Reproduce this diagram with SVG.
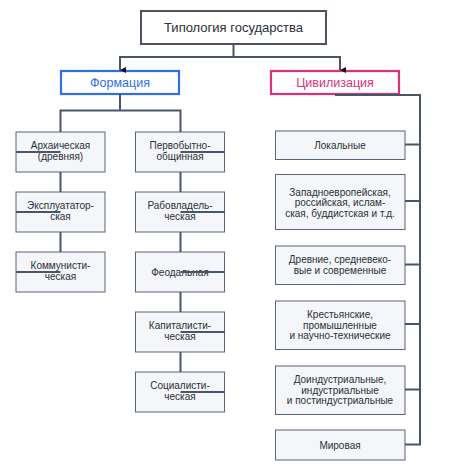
<svg xmlns="http://www.w3.org/2000/svg" width="467" height="471" viewBox="0 0 467 471">
<style>
text{font-family:"Liberation Sans",Arial,sans-serif;fill:#2b2f36;text-anchor:middle}
.sm{font-size:10px}
.box{fill:#f4f6f9;stroke:#5b6577;stroke-width:1}
.con{fill:none;stroke:#4a5568;stroke-width:2}
</style>
<defs>
<marker id="arr" viewBox="0 0 6 6" refX="3" refY="6" markerWidth="6" markerHeight="6" markerUnits="userSpaceOnUse" orient="auto-start-reverse">
<path d="M0,0 L6,0 L3,6 Z" fill="#111"/>
</marker>
</defs>
<rect width="467" height="471" fill="#fff"/>
<g id="title"><rect x="141" y="11" width="185" height="33" fill="#fff" stroke="#4a5263" stroke-width="2"/><text x="233.5" y="32" font-size="13">Типология государства</text></g>
<g id="formation"><rect x="61" y="71" width="118" height="23" fill="#fff" stroke="#2f6ee8" stroke-width="2.2"/><text x="120" y="87" font-size="12.5" style="fill:#2f6ee8">Формация</text></g>
<g id="civilization"><rect x="271" y="71" width="128" height="23" fill="#fff" stroke="#d8317a" stroke-width="2.2"/><text x="335" y="87" font-size="12.5" style="fill:#d8317a">Цивилизация</text></g>

<g id="archaic"><rect class="box" x="16" y="132" width="89" height="40"/><text class="sm" x="60.5" y="149">Архаическая</text><text class="sm" x="60.5" y="160">(древняя)</text></g>
<g id="exploit"><rect class="box" x="16" y="192" width="89" height="40"/><text class="sm" x="60.5" y="209">Эксплуататор-</text><text class="sm" x="60.5" y="220">ская</text></g>
<g id="commun"><rect class="box" x="16" y="252" width="89" height="40"/><text class="sm" x="60.5" y="269">Коммунисти-</text><text class="sm" x="60.5" y="280">ческая</text></g>

<g id="primitive"><rect class="box" x="135.5" y="132" width="89" height="40"/><text class="sm" x="180" y="149">Первобытно-</text><text class="sm" x="180" y="160">общинная</text></g>
<g id="slave"><rect class="box" x="135.5" y="192" width="89" height="40"/><text class="sm" x="180" y="209">Рабовладель-</text><text class="sm" x="180" y="220">ческая</text></g>
<g id="feudal"><rect class="box" x="135.5" y="252" width="89" height="40"/><text class="sm" x="180" y="275.5">Феодальная</text></g>
<g id="capital"><rect class="box" x="135.5" y="312" width="89" height="40"/><text class="sm" x="180" y="329">Капиталисти-</text><text class="sm" x="180" y="340">ческая</text></g>
<g id="social"><rect class="box" x="135.5" y="372" width="89" height="40"/><text class="sm" x="180" y="389">Социалисти-</text><text class="sm" x="180" y="400">ческая</text></g>

<g id="local"><rect class="box" x="275.5" y="131" width="129.5" height="28.5"/><text class="sm" x="340" y="148.5">Локальные</text></g>
<g id="western"><rect class="box" x="275.5" y="174.5" width="129.5" height="55"/><text class="sm" x="340" y="195.5">Западноевропейская,</text><text class="sm" x="340" y="206">российская, ислам-</text><text class="sm" x="340" y="216.5">ская, буддистская и т.д.</text></g>
<g id="ancient"><rect class="box" x="275.5" y="246" width="129.5" height="38.5"/><text class="sm" x="340" y="263">Древние, средневеко-</text><text class="sm" x="340" y="273.5">вые и современные</text></g>
<g id="peasant"><rect class="box" x="275.5" y="301" width="129.5" height="48.5"/><text class="sm" x="340" y="318">Крестьянские,</text><text class="sm" x="340" y="328.5">промышленные</text><text class="sm" x="340" y="339">и научно-технические</text></g>
<g id="preind"><rect class="box" x="275.5" y="366" width="129.5" height="48.5"/><text class="sm" x="340" y="383">Доиндустриальные,</text><text class="sm" x="340" y="393.5">индустриальные</text><text class="sm" x="340" y="404">и постиндустриальные</text></g>
<g id="world"><rect class="box" x="275.5" y="430" width="129.5" height="30"/><text class="sm" x="340" y="448.5">Мировая</text></g>

<g id="connectors" class="con">
<path class="con" d="M233.5,44 V57 H120 V70" marker-end="url(#arr)" style="stroke:#4a5568"/>
<path class="con" d="M233.5,57 H340 V70" marker-end="url(#arr)"/>
<path class="con" d="M120,94 V110.5 H60.5 V132 M120,110.5 H180.5 V132"/>
<path class="con" d="M60.5,172 V192 M60.5,232 V252"/>
<path class="con" d="M16,152 H60.5 M16,212 H60.5 M16,272 H60.5"/>
<path class="con" d="M180.5,172 V192 M180.5,232 V252 M180.5,292 V312 M180.5,352 V372"/>
<path class="con" d="M180.5,152 H225 M180.5,212 H225 M180.5,272 H225 M180.5,332 H225 M180.5,392 H225"/>
<path class="con" d="M335,95 H420 V444.5 H405 M420,144.5 H405 M420,201 H405 M420,264.5 H405 M420,324 H405 M420,389.5 H405"/>
</g>
</svg>
